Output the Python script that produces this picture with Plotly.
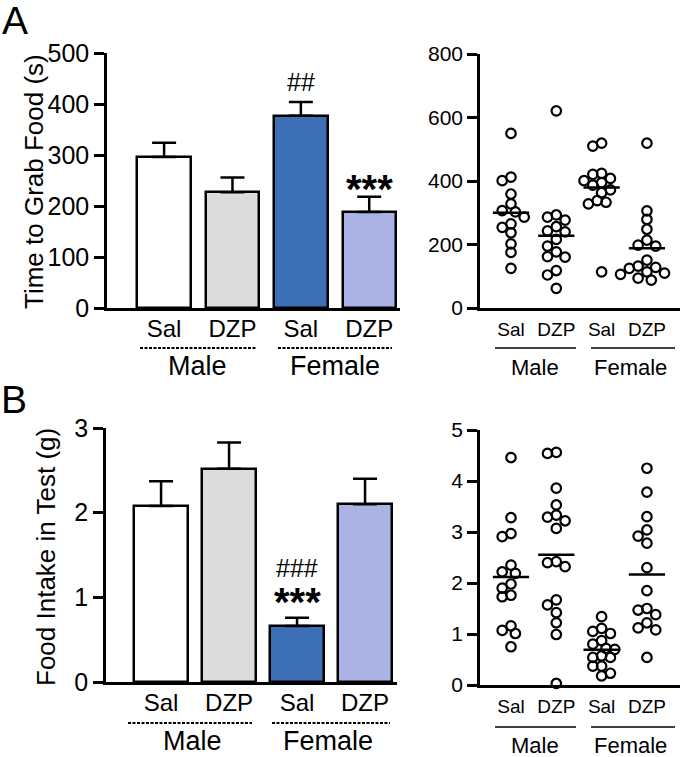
import plotly.graph_objects as go

# ---------------- data ----------------
groups = ["Sal", "DZP", "Sal", "DZP"]
sexes = ["Male", "Female"]

grab_mean = [296, 227, 377, 188]
grab_sem = [28, 29, 27, 30]
intake_mean = [2.08, 2.52, 0.66, 2.10]
intake_sem = [0.29, 0.31, 0.10, 0.30]

grab_male_sal = [550, 412, 401, 359, 328, 303, 307, 286, 254, 265, 237, 202, 175, 125]
grab_male_dzp = [621, 293, 286, 277, 256, 243, 240, 216, 195, 177, 162, 160, 118, 104, 62]
grab_female_sal = [510, 519, 421, 424, 408, 401, 395, 387, 363, 372, 333, 338, 328, 114]
grab_female_dzp = [519, 306, 279, 248, 195, 198, 214, 151, 132, 128, 114, 125, 106, 88, 94, 110]

intake_male_sal = [4.46, 3.28, 2.91, 2.97, 2.35, 2.22, 2.19, 1.98, 1.90, 1.76, 1.73, 1.16, 1.07, 1.01, 0.75]
intake_male_dzp = [4.54, 4.56, 3.86, 3.53, 3.33, 3.29, 3.22, 3.07, 2.32, 2.42, 2.40, 1.67, 1.57, 1.42, 1.22, 0.99, 0.03]
intake_female_sal = [1.34, 1.11, 1.01, 1.05, 0.87, 0.80, 0.72, 0.70, 0.57, 0.54, 0.54, 0.37, 0.37, 0.23, 0.18]
intake_female_dzp = [4.25, 3.78, 3.30, 3.04, 2.92, 2.78, 2.30, 1.85, 1.50, 1.47, 1.38, 1.22, 1.12, 1.08, 0.54]

bar_colors = ["#ffffff", "#dcdcdc", "#3c6fb6", "#aab3e3"]

# ---------------- layout helpers ----------------
W, H = 685, 757
FONT = "Liberation Sans, Arial, Helvetica, sans-serif"


def fx(px):
    return px / W


def fy(py):
    return 1 - py / H


# pixel geometry (left, right, top, bottom) of each axes box
BAR_A = dict(l=107, r=400, t=53, b=308, xr=[-0.835, 3.45], yr=[0, 500], dt=100)
BAR_B = dict(l=106, r=397, t=428, b=682, xr=[-0.81, 3.47], yr=[0, 3], dt=1)
SC_A = dict(l=480, r=680, t=54, b=308, xr=[-0.684, 3.73], yr=[0, 800], dt=200)
SC_B = dict(l=480, r=680, t=430, b=685, xr=[-0.684, 3.73], yr=[0, 5], dt=1)

fig = go.Figure()


def axes(n, g, tickfont, xfont, standoff):
    sx = "" if n == 1 else str(n)
    fig.layout["xaxis" + sx] = dict(
        domain=[fx(g["l"]), fx(g["r"])], range=g["xr"], anchor="y" + sx,
        automargin=False,
        showline=True, linewidth=2.5, linecolor="black", showgrid=False, zeroline=False,
        ticks="", tickmode="array", tickvals=[0, 1, 2, 3], ticktext=groups,
        tickfont=dict(family=FONT, size=xfont, color="black"),
        ticklabelstandoff=standoff, fixedrange=True)
    fig.layout["yaxis" + sx] = dict(
        domain=[fy(g["b"]), fy(g["t"])], range=g["yr"], anchor="x" + sx,
        automargin=False,
        showline=True, linewidth=2.5, linecolor="black", showgrid=False, zeroline=False,
        ticks="outside", ticklen=10, tickwidth=2.5, tickcolor="black",
        dtick=g["dt"], tick0=0,
        tickfont=dict(family=FONT, size=tickfont, color="black"), fixedrange=True)


axes(1, BAR_A, 25, 24, -3)
axes(2, BAR_B, 25, 24, -3)
axes(3, SC_A, 21, 19, 2)
axes(4, SC_B, 21, 19, 2)


def bars(mean, sem, xa, ya, width):
    fig.add_trace(go.Bar(
        x=[0, 1, 2, 3], y=mean, width=width,
        marker=dict(color=bar_colors, line=dict(color="black", width=2.5)),
        error_y=dict(type="data", array=sem, arrayminus=[0] * len(sem), symmetric=False,
                     color="black", thickness=2.5, width=12),
        xaxis=xa, yaxis=ya, showlegend=False, hoverinfo="skip"))


bars(grab_mean, grab_sem, "x", "y", 0.78)
bars(intake_mean, intake_sem, "x2", "y2", 0.8)


def swarm(vals, g, d=8.8):
    sx = (g["r"] - g["l"]) / (g["xr"][1] - g["xr"][0])
    sy = (g["b"] - g["t"]) / (g["yr"][1] - g["yr"][0])
    placed = []
    offs = [0.0] * len(vals)
    order = sorted(range(len(vals)), key=lambda i: -vals[i])
    cands = [0.0]
    for k in range(1, 14):
        cands += [-k * d / 2, k * d / 2]
    for i in order:
        y = vals[i] * sy
        for c in cands:
            if all((c - px) ** 2 + (y - py) ** 2 >= (0.97 * d) ** 2 for px, py in placed):
                break
        placed.append((c, y))
        offs[i] = c / sx
    return offs


def scatter_panel(sets, g, xa, ya):
    for i, vals in enumerate(sets):
        offs = swarm(vals, g)
        fig.add_trace(go.Scatter(
            x=[i + o for o in offs], y=vals, mode="markers",
            marker=dict(symbol="circle-open", size=9.5, color="black", line=dict(width=2.2)),
            xaxis=xa, yaxis=ya, showlegend=False, cliponaxis=False, hoverinfo="skip"))
        m = sum(vals) / len(vals)
        fig.add_trace(go.Scatter(
            x=[i - 0.4, i + 0.4], y=[m, m], mode="lines",
            line=dict(color="black", width=2.5),
            xaxis=xa, yaxis=ya, showlegend=False, hoverinfo="skip"))


scatter_panel([grab_male_sal, grab_male_dzp, grab_female_sal, grab_female_dzp], SC_A, "x3", "y3")
scatter_panel([intake_male_sal, intake_male_dzp, intake_female_sal, intake_female_dzp], SC_B, "x4", "y4")

ann = []
shapes = []


def text(x, y, s, size, **kw):
    d = dict(x=fx(x), y=fy(y), xref="paper", yref="paper", text=s, showarrow=False,
             xanchor="center", yanchor="middle",
             font=dict(family=FONT, size=size, color="black"))
    d.update(kw)
    ann.append(d)


def line(x0, x1, y, dash, width):
    shapes.append(dict(type="line", xref="paper", yref="paper", x0=fx(x0), x1=fx(x1),
                       y0=fy(y), y1=fy(y), line=dict(color="black", width=width, dash=dash)))


# panel letters
text(15, 21, "A", 39)
text(14, 399, "B", 39)
# y titles
text(34, 182, "Time to Grab Food (s)", 26, textangle=-90)
text(46, 557, "Food Intake in Test (g)", 26, textangle=-90)

# group labels - bar charts
DASH = "3px,1.5px"
line(140, 257, 348, DASH, 2)
line(278, 392, 348, DASH, 2)
text(197, 366, sexes[0], 27)
text(335, 366, sexes[1], 27)
line(128, 252, 723, DASH, 2)
line(272, 390, 723, DASH, 2)
text(192, 741, sexes[0], 27)
text(328, 741, sexes[1], 27)

# group labels - scatter
line(495, 576, 348, "solid", 1.5)
line(591, 675, 348, "solid", 1.5)
text(535, 367, sexes[0], 22)
text(630, 367, sexes[1], 22)
line(495, 576, 727, "solid", 1.5)
line(591, 675, 727, "solid", 1.5)
text(535, 745, sexes[0], 22)
text(630, 745, sexes[1], 22)

# significance marks
ann.append(dict(x=2, y=443, xref="x", yref="y", text="##", showarrow=False,
                font=dict(family=FONT, size=25, color="black")))
ann.append(dict(x=3, y=249, xref="x", yref="y", text="***", showarrow=False, yshift=-8,
                font=dict(family=FONT, size=40, color="black", weight="bold")))
ann.append(dict(x=2, y=1.35, xref="x2", yref="y2", text="###", showarrow=False,
                font=dict(family=FONT, size=25, color="black")))
ann.append(dict(x=2, y=1.04, xref="x2", yref="y2", text="***", showarrow=False, yshift=-8,
                font=dict(family=FONT, size=40, color="black", weight="bold")))

fig.update_layout(
    width=W, height=H, margin=dict(l=0, r=0, t=0, b=0, autoexpand=False),
    paper_bgcolor="white", plot_bgcolor="white",
    annotations=ann, shapes=shapes, bargap=0,
    font=dict(family=FONT, color="black"))

fig.write_html(
    "out.html",
    config={"displayModeBar": False},
    post_script="document.body.style.margin='0';document.body.style.overflow='hidden';")
